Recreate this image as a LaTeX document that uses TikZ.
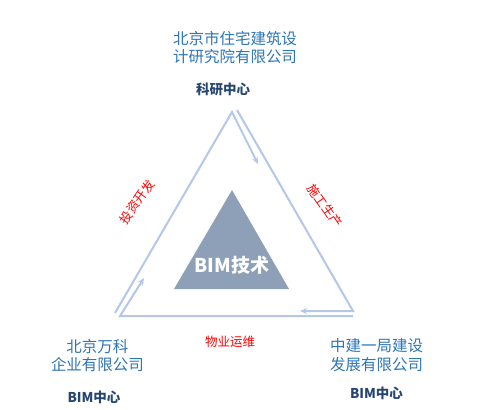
\documentclass[tikz,border=0pt]{standalone}
\usepackage{fontspec}
\setmainfont{Noto Sans CJK SC}
\usetikzlibrary{arrows.meta, positioning}
\definecolor{linkblue}{RGB}{180,199,231}
\definecolor{firmblue}{RGB}{46,117,182}
\definecolor{deptblue}{RGB}{38,70,112}
\definecolor{coreblue}{RGB}{142,160,184}
\tikzset{
    firm/.style={text=firmblue, font=\fontsize{15.5}{18.5}\selectfont, align=center, inner sep=0pt},
    dept/.style={text=deptblue, font=\fontsize{13.5}{15}\selectfont\bfseries, inner sep=0pt},
    phase/.style={text=red, font=\fontsize{12.5}{14}\selectfont, inner sep=0pt},
    % chevron lines round the core
    cyclearrow/.style={draw=linkblue, line width=2pt, -{Stealth[length=7pt,width=6pt]}},
    corelabel/.style={text=white, font=\fontsize{19}{21}\selectfont\bfseries, inner sep=0pt}
}

\begin{document}
\begin{tikzpicture}[x=1pt, y=-1pt]
    \useasboundingbox (0,0) rectangle (491,410);

    % corners of the three chevrons
    \coordinate (a1) at (115,313);
    \coordinate (a2) at (232,112);
    \coordinate (a3) at (258,164);
    \coordinate (b1) at (237,110);
    \coordinate (b2) at (353,311);
    \coordinate (b3) at (300,311);
    \coordinate (c1) at (353,316);
    \coordinate (c2) at (120,316);
    \coordinate (c3) at (144,278);

    \draw[cyclearrow] (a1) -- (a2) -- (a3);
    \draw[cyclearrow] (b1) -- (b2) -- (b3);
    \draw[cyclearrow] (c1) -- (c2) -- (c3);

    % core
    \coordinate (coretop) at (232,190);
    \coordinate (coreleft) at (174,289);
    \coordinate (coreright) at (289,289);
    \fill[coreblue] (coretop) -- (coreleft) -- (coreright) -- cycle;
    \node[corelabel] (Core) at (232,265) {BIM技术};

    % partners
    \node[firm] (Design) at (235,47.5) {北京市住宅建筑设\\计研究院有限公司};
    \node[dept, below=19pt of Design, xshift=-12pt] (DesignDept) {科研中心};
    \node[firm] (Vanke) at (97.5,355.5) {北京万科\\企业有限公司};
    \node[dept, below=19pt of Vanke, xshift=-3.5pt] (VankeDept) {BIM中心};
    \node[firm] (Build) at (376.5,355) {中建一局建设\\发展有限公司};
    \node[dept, below=15pt of Build] (BuildDept) {BIM中心};

    % phases
    \node[phase, rotate=55] (Invest) at (137,202) {投资开发};
    \node[phase, rotate=-55] (Construct) at (325,206) {施工生产};
    \node[phase] (Operate) at (230,342) {物业运维};
\end{tikzpicture}
\end{document}
